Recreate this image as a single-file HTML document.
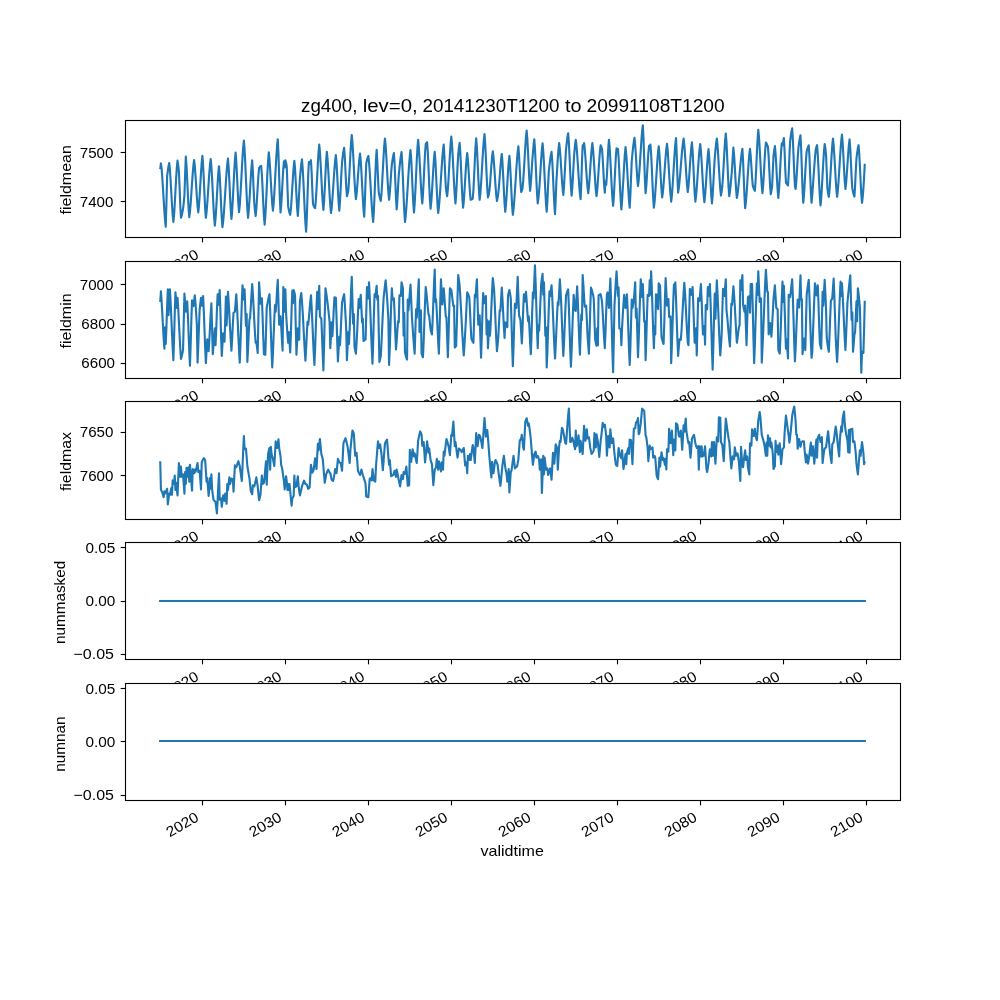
<!DOCTYPE html>
<html lang="en">
<head>
<meta charset="utf-8">
<title>zg400, lev=0, 20141230T1200 to 20991108T1200</title>
<style>
html,body{margin:0;padding:0;background:#fff;}
body{width:1000px;height:1000px;overflow:hidden;}
svg{display:block;will-change:transform;}
text{font-family:"Liberation Sans",sans-serif;fill:#000;}
.tk{font-size:14.7px;}
.lb{font-size:14.6px;}
.tt text{font-size:17.5px;}
.ln{fill:none;stroke:#1f77b4;stroke-width:2.12;stroke-linejoin:round;stroke-linecap:butt;}
.fr{fill:none;stroke:#000;stroke-width:1.11;}
.tm{stroke:#000;stroke-width:1.11;}
</style>
</head>
<body>
<svg width="1000" height="1000" viewBox="0 0 1000 1000">
<rect x="0" y="0" width="1000" height="1000" fill="#fff"/>
<g>
<rect x="125.00" y="120.00" width="775.00" height="117.24" fill="#fff"/>
<path class="ln" d="M160.23 169.20 L160.92 163.44 L161.61 168.60 L162.30 177.73 L163.00 188.70 L163.69 200.29 L164.38 211.31 L165.07 220.54 L165.76 226.80 L166.45 202.70 L167.14 176.40 L167.84 170.52 L168.53 165.92 L169.22 162.96 L169.91 169.79 L170.60 180.23 L171.29 192.48 L171.98 204.73 L172.68 215.17 L173.37 222.00 L174.06 214.89 L174.75 204.02 L175.44 191.28 L176.13 178.54 L176.82 167.67 L177.52 160.56 L178.21 165.00 L178.90 171.60 L179.59 187.04 L180.28 205.25 L180.97 217.80 L181.66 215.68 L182.35 212.47 L183.05 208.80 L183.74 202.97 L184.43 195.60 L185.12 174.74 L185.81 156.60 L186.50 165.52 L187.19 179.24 L187.89 194.56 L188.58 208.28 L189.27 217.20 L189.96 211.78 L190.65 203.60 L191.34 193.77 L192.03 183.39 L192.73 173.56 L193.42 165.38 L194.11 159.96 L194.80 166.03 L195.49 175.30 L196.18 186.18 L196.87 197.06 L197.57 206.33 L198.26 212.40 L198.95 205.84 L199.64 195.83 L200.33 184.08 L201.02 172.33 L201.71 162.32 L202.41 155.76 L203.10 164.89 L203.79 178.94 L204.48 194.62 L205.17 208.67 L205.86 217.80 L206.55 212.23 L207.25 203.83 L207.94 193.73 L208.63 183.07 L209.32 172.97 L210.01 164.57 L210.70 159.00 L211.39 166.71 L212.09 178.49 L212.78 192.30 L213.47 206.11 L214.16 217.89 L214.85 225.60 L215.54 218.73 L216.23 208.22 L216.93 195.90 L217.62 183.58 L218.31 173.07 L219.00 166.20 L219.69 175.17 L220.38 188.97 L221.07 204.39 L221.76 218.19 L222.46 227.16 L223.15 221.69 L223.84 213.56 L224.53 203.67 L225.22 192.90 L225.91 182.13 L226.60 172.24 L227.30 164.11 L227.99 158.64 L228.68 167.52 L229.37 181.19 L230.06 196.45 L230.75 210.12 L231.44 219.00 L232.14 211.32 L232.83 199.58 L233.52 185.82 L234.21 172.06 L234.90 160.32 L235.59 152.64 L236.28 161.40 L236.98 174.88 L237.67 189.92 L238.36 203.40 L239.05 212.16 L239.74 205.38 L240.43 195.17 L241.12 182.88 L241.82 169.92 L242.51 157.63 L243.20 147.42 L243.89 140.64 L244.58 149.57 L245.27 163.22 L245.96 179.22 L246.66 195.22 L247.35 208.87 L248.04 217.80 L248.73 211.13 L249.42 200.95 L250.11 189.00 L250.80 177.05 L251.50 166.87 L252.19 160.20 L252.88 171.59 L253.57 188.19 L254.26 202.80 L254.95 210.61 L255.64 216.00 L256.34 209.04 L257.03 198.40 L257.72 186.43 L258.41 175.51 L259.10 168.00 L259.79 167.06 L260.48 166.32 L261.17 165.84 L261.87 174.51 L262.56 187.85 L263.25 202.75 L263.94 216.09 L264.63 224.76 L265.32 216.38 L266.01 203.59 L266.71 188.58 L267.40 173.57 L268.09 160.78 L268.78 152.40 L269.47 159.14 L270.16 169.43 L270.85 181.50 L271.55 193.57 L272.24 203.86 L272.93 210.60 L273.62 203.83 L274.31 193.63 L275.00 181.37 L275.69 168.43 L276.39 156.17 L277.08 145.97 L277.77 139.20 L278.46 153.73 L279.15 175.80 L279.84 197.87 L280.53 212.40 L281.23 204.89 L281.92 193.35 L282.61 180.45 L283.30 168.91 L283.99 161.40 L284.68 167.40 L285.37 160.20 L286.07 162.72 L286.76 166.80 L287.45 186.67 L288.14 206.40 L288.83 210.12 L289.52 212.97 L290.21 214.80 L290.91 208.55 L291.60 199.00 L292.29 187.80 L292.98 176.60 L293.67 167.05 L294.36 160.80 L295.05 168.93 L295.75 181.42 L296.44 195.38 L297.13 207.87 L297.82 216.00 L298.51 206.16 L299.20 191.77 L299.89 178.80 L300.58 171.03 L301.28 164.01 L301.97 159.36 L302.66 167.72 L303.35 180.50 L304.04 195.48 L304.73 210.46 L305.42 223.24 L306.12 231.60 L306.81 217.79 L307.50 196.80 L308.19 175.81 L308.88 162.00 L309.57 163.80 L310.26 162.00 L310.96 160.20 L311.65 172.70 L312.34 190.56 L313.03 204.00 L313.72 205.85 L314.41 207.28 L315.10 208.20 L315.80 200.84 L316.49 189.59 L317.18 176.40 L317.87 163.21 L318.56 151.96 L319.25 144.60 L319.94 152.17 L320.64 163.74 L321.33 177.30 L322.02 190.86 L322.71 202.43 L323.40 210.00 L324.09 201.43 L324.78 188.26 L325.48 173.54 L326.17 160.37 L326.86 151.80 L327.55 158.88 L328.24 169.71 L328.93 182.40 L329.62 195.09 L330.32 205.92 L331.01 213.00 L331.70 207.51 L332.39 199.23 L333.08 189.28 L333.77 178.76 L334.46 168.81 L335.16 160.53 L335.85 155.04 L336.54 163.22 L337.23 175.80 L337.92 189.84 L338.61 202.42 L339.30 210.60 L339.99 201.64 L340.69 188.13 L341.38 173.70 L342.07 162.00 L342.76 156.23 L343.45 151.17 L344.14 147.84 L344.83 157.44 L345.53 172.02 L346.22 186.60 L346.91 196.20 L347.60 194.05 L348.29 190.80 L348.98 181.18 L349.67 168.37 L350.37 154.79 L351.06 142.86 L351.75 135.00 L352.44 142.43 L353.13 153.78 L353.82 167.10 L354.51 180.42 L355.21 191.77 L355.90 199.20 L356.59 193.92 L357.28 185.86 L357.97 176.40 L358.66 166.94 L359.35 158.88 L360.05 153.60 L360.74 160.89 L361.43 172.03 L362.12 185.10 L362.81 198.17 L363.50 209.31 L364.19 216.60 L364.89 201.49 L365.58 179.86 L366.27 163.20 L366.96 160.06 L367.65 157.59 L368.34 156.00 L369.03 162.25 L369.73 171.68 L370.42 183.02 L371.11 194.98 L371.80 206.32 L372.49 215.75 L373.18 222.00 L373.87 211.37 L374.57 195.01 L375.26 176.75 L375.95 160.39 L376.64 149.76 L377.33 161.51 L378.02 178.43 L378.71 192.00 L379.40 195.84 L380.10 198.97 L380.79 201.00 L381.48 193.78 L382.17 182.74 L382.86 169.80 L383.55 156.86 L384.24 145.82 L384.94 138.60 L385.63 145.68 L386.32 156.51 L387.01 169.20 L387.70 181.89 L388.39 192.72 L389.08 199.80 L389.78 193.31 L390.47 183.53 L391.16 173.04 L391.85 164.40 L392.54 159.79 L393.23 155.70 L393.92 153.00 L394.62 164.19 L395.31 181.20 L396.00 198.21 L396.69 209.40 L397.38 200.34 L398.07 187.11 L398.76 175.20 L399.46 168.22 L400.15 161.54 L400.84 155.93 L401.53 152.16 L402.22 162.44 L402.91 178.25 L403.60 195.91 L404.30 211.72 L404.99 222.00 L405.68 216.25 L406.37 207.71 L407.06 197.32 L407.75 186.00 L408.44 174.68 L409.14 164.29 L409.83 155.75 L410.52 150.00 L411.21 159.19 L411.90 173.31 L412.59 189.09 L413.28 203.21 L413.98 212.40 L414.67 204.00 L415.36 191.16 L416.05 176.10 L416.74 161.04 L417.43 148.20 L418.12 139.80 L418.81 147.16 L419.51 158.41 L420.20 171.60 L420.89 184.79 L421.58 196.04 L422.27 203.40 L422.96 194.79 L423.65 181.60 L424.35 166.78 L425.04 153.27 L425.73 144.00 L426.42 142.90 L427.11 142.20 L427.80 152.00 L428.49 167.08 L429.19 183.92 L429.88 199.00 L430.57 208.80 L431.26 202.20 L431.95 192.12 L432.64 180.30 L433.33 168.48 L434.03 158.40 L434.72 151.80 L435.41 160.81 L436.10 174.66 L436.79 190.14 L437.48 203.99 L438.17 213.00 L438.87 207.54 L439.56 199.43 L440.25 189.55 L440.94 178.80 L441.63 168.05 L442.32 158.17 L443.01 150.06 L443.71 144.60 L444.40 156.04 L445.09 172.62 L445.78 186.60 L446.47 192.35 L447.16 196.20 L447.85 189.30 L448.55 178.75 L449.24 166.38 L449.93 154.01 L450.62 143.46 L451.31 136.56 L452.00 144.30 L452.69 156.12 L453.39 169.98 L454.08 183.84 L454.77 195.66 L455.46 203.40 L456.15 194.55 L456.84 181.23 L457.53 166.84 L458.22 154.80 L458.92 147.74 L459.61 142.80 L460.30 152.34 L460.99 167.01 L461.68 183.39 L462.37 198.06 L463.06 207.60 L463.76 201.28 L464.45 191.62 L465.14 180.30 L465.83 168.98 L466.52 159.32 L467.21 153.00 L467.90 159.89 L468.60 170.48 L469.29 182.32 L469.98 192.91 L470.67 199.80 L471.36 199.54 L472.05 199.13 L472.74 198.60 L473.44 189.46 L474.13 175.77 L474.82 160.60 L475.51 147.06 L476.20 138.24 L476.89 147.30 L477.58 161.24 L478.28 176.80 L478.97 190.74 L479.66 199.80 L480.35 193.58 L481.04 184.20 L481.73 172.93 L482.42 161.03 L483.12 149.76 L483.81 140.38 L484.50 134.16 L485.19 143.47 L485.88 157.79 L486.57 173.77 L487.26 188.09 L487.96 197.40 L488.65 194.96 L489.34 191.40 L490.03 184.04 L490.72 174.76 L491.41 165.14 L492.10 156.76 L492.80 151.20 L493.49 156.96 L494.18 165.77 L494.87 176.10 L495.56 186.43 L496.25 195.24 L496.94 201.00 L497.63 197.78 L498.33 193.20 L499.02 185.67 L499.71 176.57 L500.40 167.31 L501.09 159.30 L501.78 153.96 L502.47 162.47 L503.17 175.57 L503.86 190.19 L504.55 203.29 L505.24 211.80 L505.93 205.31 L506.62 195.40 L507.31 183.78 L508.01 172.16 L508.70 162.25 L509.39 155.76 L510.08 164.45 L510.77 177.82 L511.46 192.74 L512.15 206.11 L512.85 214.80 L513.54 209.34 L514.23 201.23 L514.92 191.35 L515.61 180.60 L516.30 169.85 L516.99 159.97 L517.69 151.86 L518.38 146.40 L519.07 155.45 L519.76 169.20 L520.45 182.95 L521.14 192.00 L521.83 190.57 L522.53 188.40 L523.22 180.67 L523.91 170.15 L524.60 158.36 L525.29 146.82 L525.98 137.05 L526.67 130.56 L527.37 139.43 L528.06 153.07 L528.75 168.29 L529.44 181.93 L530.13 190.80 L530.82 183.41 L531.51 172.50 L532.20 162.00 L532.90 153.26 L533.59 144.83 L534.28 139.20 L534.97 148.65 L535.66 163.19 L536.35 179.41 L537.04 193.95 L537.74 203.40 L538.43 198.11 L539.12 190.80 L539.81 181.23 L540.50 170.18 L541.19 159.17 L541.88 149.73 L542.58 143.40 L543.27 151.32 L543.96 163.41 L544.65 177.60 L545.34 191.79 L546.03 203.88 L546.72 211.80 L547.42 200.94 L548.11 185.17 L548.80 171.60 L549.49 165.38 L550.18 159.67 L550.87 154.97 L551.56 151.80 L552.26 160.99 L552.95 175.11 L553.64 190.89 L554.33 205.01 L555.02 214.20 L555.71 199.41 L556.40 181.20 L557.10 169.77 L557.79 158.69 L558.48 149.33 L559.17 143.04 L559.86 149.05 L560.55 158.24 L561.24 169.02 L561.94 179.80 L562.63 188.99 L563.32 195.00 L564.01 186.56 L564.70 173.84 L565.39 160.15 L566.08 148.80 L566.78 142.51 L567.47 136.90 L568.16 133.20 L568.85 142.39 L569.54 156.51 L570.23 172.29 L570.92 186.41 L571.61 195.60 L572.31 187.68 L573.00 175.76 L573.69 162.81 L574.38 151.80 L575.07 144.77 L575.76 139.80 L576.45 145.43 L577.15 153.91 L577.84 164.11 L578.53 174.89 L579.22 185.09 L579.91 193.57 L580.60 199.20 L581.29 183.40 L581.99 161.00 L582.68 145.20 L583.37 147.00 L584.06 143.04 L584.75 148.85 L585.44 157.72 L586.13 168.12 L586.83 178.52 L587.52 187.39 L588.21 193.20 L588.90 187.39 L589.59 178.52 L590.28 168.12 L590.97 157.72 L591.67 148.85 L592.36 143.04 L593.05 149.19 L593.74 158.59 L594.43 169.62 L595.12 180.65 L595.81 190.05 L596.51 196.20 L597.20 190.30 L597.89 181.28 L598.58 170.70 L599.27 160.12 L599.96 151.10 L600.65 145.20 L601.35 146.85 L602.04 149.40 L602.73 158.98 L603.42 171.90 L604.11 184.36 L604.80 192.60 L605.49 181.20 L606.19 184.80 L606.88 175.87 L607.57 162.30 L608.26 148.73 L608.95 139.80 L609.64 147.44 L610.33 159.11 L611.02 172.80 L611.72 186.49 L612.41 198.16 L613.10 205.80 L613.79 197.32 L614.48 184.28 L615.17 169.72 L615.86 156.68 L616.56 148.20 L617.25 150.00 L617.94 148.80 L618.63 157.72 L619.32 171.44 L620.01 186.76 L620.70 200.48 L621.40 209.40 L622.09 200.62 L622.78 189.00 L623.47 177.47 L624.16 165.16 L624.85 154.27 L625.54 147.00 L626.24 154.01 L626.93 164.73 L627.62 177.30 L628.31 189.87 L629.00 200.59 L629.69 207.60 L630.38 194.96 L631.08 176.60 L631.77 160.80 L632.46 153.57 L633.15 146.91 L633.84 141.44 L634.53 137.76 L635.22 144.86 L635.92 155.78 L636.61 167.98 L637.30 178.90 L637.99 186.00 L638.68 180.26 L639.37 171.60 L640.06 161.19 L640.76 150.21 L641.45 139.80 L642.14 131.14 L642.83 125.40 L643.52 138.85 L644.21 159.30 L644.90 179.75 L645.60 193.20 L646.29 186.22 L646.98 175.49 L647.67 163.51 L648.36 152.78 L649.05 145.80 L649.74 147.00 L650.43 144.60 L651.13 153.87 L651.82 168.14 L652.51 184.06 L653.20 198.33 L653.89 207.60 L654.58 201.80 L655.27 193.06 L655.97 182.55 L656.66 171.45 L657.35 160.94 L658.04 152.20 L658.73 146.40 L659.42 153.91 L660.11 165.45 L660.81 178.35 L661.50 189.89 L662.19 197.40 L662.88 192.32 L663.57 184.65 L664.26 175.44 L664.95 165.72 L665.65 156.51 L666.34 148.84 L667.03 143.76 L667.72 150.96 L668.41 161.77 L669.10 173.83 L669.79 184.80 L670.49 194.46 L671.18 201.60 L671.87 195.57 L672.56 186.49 L673.25 175.57 L673.94 164.03 L674.63 153.11 L675.33 144.03 L676.02 138.00 L676.71 153.98 L677.40 176.62 L678.09 192.60 L678.78 188.29 L679.47 181.88 L680.17 174.09 L680.86 165.60 L681.55 157.11 L682.24 149.32 L682.93 142.91 L683.62 138.60 L684.31 144.78 L685.01 154.22 L685.70 165.30 L686.39 176.38 L687.08 185.82 L687.77 192.00 L688.46 186.24 L689.15 177.43 L689.84 167.10 L690.54 156.77 L691.23 147.96 L691.92 142.20 L692.61 150.94 L693.30 164.39 L693.99 179.41 L694.68 192.86 L695.38 201.60 L696.07 196.14 L696.76 187.91 L697.45 178.02 L698.14 167.58 L698.83 157.69 L699.52 149.46 L700.22 144.00 L700.91 150.74 L701.60 161.03 L702.29 173.10 L702.98 185.17 L703.67 195.46 L704.36 202.20 L705.06 196.05 L705.75 186.65 L706.44 175.62 L707.13 164.59 L707.82 155.19 L708.51 149.04 L709.20 157.04 L709.90 169.35 L710.59 183.09 L711.28 195.40 L711.97 203.40 L712.66 195.32 L713.35 183.16 L714.04 169.87 L714.74 158.40 L715.43 150.60 L716.12 143.39 L716.81 138.60 L717.50 145.20 L718.19 155.28 L718.88 167.10 L719.58 178.92 L720.27 189.00 L720.96 195.60 L721.65 191.66 L722.34 186.00 L723.03 176.06 L723.72 163.89 L724.42 151.42 L725.11 140.63 L725.80 133.44 L726.49 142.68 L727.18 156.89 L727.87 172.75 L728.56 186.96 L729.25 196.20 L729.95 191.72 L730.64 185.04 L731.33 177.20 L732.02 169.20 L732.71 157.23 L733.40 147.60 L734.09 155.02 L734.79 166.43 L735.48 179.17 L736.17 190.58 L736.86 198.00 L737.55 194.07 L738.24 188.24 L738.93 181.14 L739.63 173.40 L740.32 165.66 L741.01 158.56 L741.70 152.73 L742.39 148.80 L743.08 160.59 L743.77 178.50 L744.47 196.41 L745.16 208.20 L745.85 202.57 L746.54 194.09 L747.23 183.89 L747.92 173.11 L748.61 162.91 L749.31 154.43 L750.00 148.80 L750.69 155.76 L751.38 166.30 L752.07 177.24 L752.76 185.40 L753.45 187.69 L754.15 189.58 L754.84 190.80 L755.53 181.83 L756.22 168.03 L756.91 152.61 L757.60 138.81 L758.29 129.84 L758.99 137.17 L759.68 148.38 L760.37 161.52 L761.06 174.66 L761.75 185.87 L762.44 193.20 L763.13 185.75 L763.83 174.28 L764.52 161.48 L765.21 150.01 L765.90 142.56 L766.59 143.55 L767.28 145.08 L767.97 147.00 L768.66 157.14 L769.36 171.28 L770.05 185.06 L770.74 194.16 L771.43 190.96 L772.12 186.00 L772.81 171.14 L773.50 156.00 L774.20 150.06 L774.89 146.16 L775.58 153.79 L776.27 165.53 L776.96 178.63 L777.65 190.37 L778.34 198.00 L779.04 189.96 L779.73 177.60 L780.42 163.80 L781.11 151.44 L781.80 143.40 L782.49 145.20 L783.18 141.60 L783.88 138.00 L784.57 150.76 L785.26 168.95 L785.95 182.40 L786.64 183.74 L787.33 184.75 L788.02 185.40 L788.72 173.41 L789.41 156.07 L790.10 141.60 L790.79 136.08 L791.48 131.44 L792.17 128.40 L792.86 139.38 L793.56 155.99 L794.25 173.21 L794.94 186.00 L795.63 189.00 L796.32 181.51 L797.01 170.23 L797.70 158.13 L798.40 148.20 L799.09 143.00 L799.78 138.39 L800.47 135.36 L801.16 148.74 L801.85 169.08 L802.54 189.42 L803.24 202.80 L803.93 195.47 L804.62 184.33 L805.31 171.69 L806.00 159.87 L806.69 151.20 L807.38 148.77 L808.07 146.75 L808.77 145.44 L809.46 156.82 L810.15 174.12 L810.84 191.42 L811.53 202.80 L812.22 195.59 L812.91 186.00 L813.61 176.55 L814.30 166.60 L814.99 157.35 L815.68 150.00 L816.37 147.11 L817.06 145.20 L817.75 154.07 L818.45 167.71 L819.14 182.93 L819.83 196.57 L820.52 205.44 L821.21 198.33 L821.90 187.46 L822.59 174.72 L823.29 161.98 L823.98 151.11 L824.67 144.00 L825.36 148.28 L826.05 154.80 L826.74 171.80 L827.43 188.40 L828.13 193.52 L828.82 196.80 L829.51 190.06 L830.20 179.77 L830.89 167.70 L831.58 155.63 L832.27 145.34 L832.97 138.60 L833.66 145.34 L834.35 155.63 L835.04 167.70 L835.73 179.77 L836.42 190.06 L837.11 196.80 L837.81 190.91 L838.50 182.03 L839.19 171.36 L839.88 160.08 L840.57 149.41 L841.26 140.53 L841.95 134.64 L842.65 142.64 L843.34 154.95 L844.03 168.69 L844.72 181.00 L845.41 189.00 L846.10 183.26 L846.79 174.50 L847.48 164.22 L848.18 153.94 L848.87 145.18 L849.56 139.44 L850.25 148.71 L850.94 162.73 L851.63 177.35 L852.32 188.40 L853.02 191.84 L853.71 194.70 L854.40 196.56 L855.09 186.19 L855.78 171.16 L856.47 158.40 L857.16 152.94 L857.86 148.26 L858.55 145.20 L859.24 153.68 L859.93 166.72 L860.62 181.28 L861.31 194.32 L862.00 202.80 L862.70 197.04 L863.39 188.58 L864.08 177.48 L864.77 163.80"/>
<line class="tm" x1="202.50" y1="237.50" x2="202.50" y2="242.36"/>
<line class="tm" x1="285.50" y1="237.50" x2="285.50" y2="242.36"/>
<line class="tm" x1="368.50" y1="237.50" x2="368.50" y2="242.36"/>
<line class="tm" x1="451.50" y1="237.50" x2="451.50" y2="242.36"/>
<line class="tm" x1="534.50" y1="237.50" x2="534.50" y2="242.36"/>
<line class="tm" x1="617.50" y1="237.50" x2="617.50" y2="242.36"/>
<line class="tm" x1="700.50" y1="237.50" x2="700.50" y2="242.36"/>
<line class="tm" x1="783.50" y1="237.50" x2="783.50" y2="242.36"/>
<line class="tm" x1="866.50" y1="237.50" x2="866.50" y2="242.36"/>
<line class="tm" x1="120.64" y1="152.50" x2="125.50" y2="152.50"/>
<line class="tm" x1="120.64" y1="201.50" x2="125.50" y2="201.50"/>
<rect class="fr" x="125.50" y="120.50" width="775.00" height="117.00"/>
<text class="tk" text-anchor="end" transform="translate(199.77 257.44) rotate(-30) scale(1.06 1)">2020</text>
<text class="tk" text-anchor="end" transform="translate(282.80 257.44) rotate(-30) scale(1.06 1)">2030</text>
<text class="tk" text-anchor="end" transform="translate(365.83 257.44) rotate(-30) scale(1.06 1)">2040</text>
<text class="tk" text-anchor="end" transform="translate(448.86 257.44) rotate(-30) scale(1.06 1)">2050</text>
<text class="tk" text-anchor="end" transform="translate(531.89 257.44) rotate(-30) scale(1.06 1)">2060</text>
<text class="tk" text-anchor="end" transform="translate(614.92 257.44) rotate(-30) scale(1.06 1)">2070</text>
<text class="tk" text-anchor="end" transform="translate(697.95 257.44) rotate(-30) scale(1.06 1)">2080</text>
<text class="tk" text-anchor="end" transform="translate(780.98 257.44) rotate(-30) scale(1.06 1)">2090</text>
<text class="tk" text-anchor="end" transform="translate(864.01 257.44) rotate(-30) scale(1.06 1)">2100</text>
<text class="tk" text-anchor="end" transform="translate(113.40 157.90) scale(1.03 1)">7500</text>
<text class="tk" text-anchor="end" transform="translate(113.40 206.90) scale(1.03 1)">7400</text>
<text class="lb" text-anchor="middle" transform="translate(71.00 179.82) rotate(-90) scale(1.095 1)">fieldmean</text>
<g class="tt">
<text transform="translate(301.00 112.00) scale(1.0750 1)">zg400,</text>
<text transform="translate(362.70 112.00) scale(1.1650 1)">lev=0,</text>
<text transform="translate(422.50 112.00) scale(1.0750 1)">20141230T1200</text>
<text transform="translate(565.00 112.00) scale(1.1350 1)">to</text>
<text transform="translate(586.50 112.00) scale(1.0950 1)">20991108T1200</text>
</g>
</g>
<g>
<rect x="125.00" y="260.69" width="775.00" height="117.24" fill="#fff"/>
<path class="ln" d="M160.23 302.00 L160.92 291.20 L161.61 301.06 L162.30 313.41 L163.00 326.59 L163.69 338.94 L164.38 348.80 L165.07 327.20 L165.76 344.00 L166.45 327.01 L167.14 306.39 L167.84 289.40 L168.53 315.20 L169.22 302.30 L169.91 289.40 L170.60 301.52 L171.29 316.70 L171.98 332.90 L172.68 348.08 L173.37 360.20 L174.06 339.11 L174.75 313.49 L175.44 292.40 L176.13 300.20 L176.82 308.00 L177.52 297.80 L178.21 308.28 L178.90 321.40 L179.59 335.40 L180.28 348.52 L180.97 359.00 L181.66 356.58 L182.35 353.56 L183.05 350.00 L183.74 321.37 L184.43 293.60 L185.12 302.60 L185.81 311.60 L186.50 306.50 L187.19 301.40 L187.89 315.64 L188.58 333.50 L189.27 351.36 L189.96 365.60 L190.65 345.25 L191.34 320.55 L192.03 300.20 L192.73 303.20 L193.42 306.20 L194.11 300.80 L194.80 295.40 L195.49 303.57 L196.18 313.74 L196.87 325.40 L197.57 362.60 L198.26 346.75 L198.95 327.38 L199.64 309.80 L200.33 303.15 L201.02 297.80 L201.71 305.60 L202.41 300.80 L203.10 296.00 L203.79 310.91 L204.48 329.60 L205.17 348.29 L205.86 363.20 L206.55 351.20 L207.25 339.20 L207.94 345.20 L208.63 351.20 L209.32 340.55 L210.01 327.20 L210.70 313.85 L211.39 303.20 L212.09 328.70 L212.78 354.20 L213.47 346.17 L214.16 336.43 L214.85 328.40 L215.54 345.20 L216.23 329.33 L216.93 310.07 L217.62 294.20 L218.31 305.00 L219.00 297.50 L219.69 290.00 L220.38 310.53 L221.07 335.47 L221.76 356.00 L222.46 344.60 L223.15 333.20 L223.84 337.40 L224.53 341.60 L225.22 319.10 L225.91 296.60 L226.60 325.40 L227.30 308.60 L227.99 291.80 L228.68 301.87 L229.37 314.47 L230.06 327.93 L230.75 340.53 L231.44 350.60 L232.14 338.91 L232.83 324.70 L233.52 312.80 L234.21 312.20 L234.90 311.60 L235.59 302.82 L236.28 294.20 L236.98 305.91 L237.67 320.58 L238.36 336.22 L239.05 350.89 L239.74 362.60 L240.43 345.43 L241.12 323.90 L241.82 302.37 L242.51 285.20 L243.20 292.40 L243.89 299.60 L244.58 289.40 L245.27 307.70 L245.96 326.00 L246.66 314.00 L247.35 362.00 L248.04 349.18 L248.73 333.56 L249.42 320.00 L250.11 317.60 L250.80 306.67 L251.50 294.22 L252.19 284.00 L252.88 294.07 L253.57 306.67 L254.26 320.13 L254.95 332.73 L255.64 342.80 L256.34 341.60 L257.03 347.30 L257.72 353.00 L258.41 317.60 L259.10 282.20 L259.79 293.00 L260.48 303.80 L261.17 301.10 L261.87 298.40 L262.56 315.72 L263.25 336.77 L263.94 354.20 L264.63 354.54 L265.32 354.80 L266.01 331.89 L266.71 308.00 L267.40 303.83 L268.09 300.12 L268.78 296.89 L269.47 294.20 L270.16 310.44 L270.85 330.80 L271.55 351.16 L272.24 367.40 L272.93 353.55 L273.62 336.20 L274.31 318.85 L275.00 305.00 L275.69 311.60 L276.39 301.71 L277.08 289.69 L277.77 279.80 L278.46 302.30 L279.15 324.80 L279.84 320.60 L280.53 316.40 L281.23 327.04 L281.92 339.96 L282.61 350.60 L283.30 287.00 L283.99 299.30 L284.68 311.60 L285.37 289.40 L286.07 312.80 L286.76 324.14 L287.45 334.47 L288.14 342.80 L288.83 332.00 L289.52 342.20 L290.21 352.40 L290.91 333.17 L291.60 309.83 L292.29 290.60 L292.98 303.20 L293.67 290.00 L294.36 292.33 L295.05 295.40 L295.75 325.47 L296.44 354.80 L297.13 341.60 L297.82 328.40 L298.51 334.10 L299.20 339.80 L299.89 302.00 L300.58 296.84 L301.28 293.00 L301.97 301.52 L302.66 311.60 L303.35 324.28 L304.04 337.76 L304.73 350.47 L305.42 360.80 L306.12 348.67 L306.81 333.93 L307.50 321.80 L308.19 324.80 L308.88 318.28 L309.57 310.10 L310.26 301.92 L310.96 295.40 L311.65 307.32 L312.34 322.24 L313.03 338.16 L313.72 353.08 L314.41 365.00 L315.10 348.76 L315.80 328.40 L316.49 308.04 L317.18 291.80 L317.87 309.20 L318.56 297.50 L319.25 285.80 L319.94 316.40 L320.64 317.63 L321.33 318.80 L322.02 335.14 L322.71 354.49 L323.40 370.40 L324.09 344.83 L324.78 313.77 L325.48 288.20 L326.17 292.49 L326.86 297.37 L327.55 302.82 L328.24 308.82 L328.93 315.36 L329.62 322.40 L330.32 348.20 L331.01 335.30 L331.70 322.40 L332.39 336.20 L333.08 324.07 L333.77 309.33 L334.46 297.20 L335.16 297.46 L335.85 297.80 L336.54 317.66 L337.23 341.65 L337.92 361.40 L338.61 349.10 L339.30 336.80 L339.99 345.20 L340.69 332.26 L341.38 316.48 L342.07 302.60 L342.76 299.36 L343.45 296.50 L344.14 294.20 L344.83 303.99 L345.53 316.13 L346.22 329.60 L346.91 360.20 L347.60 346.10 L348.29 332.00 L348.98 344.00 L349.67 329.09 L350.37 310.40 L351.06 291.71 L351.75 276.80 L352.44 300.20 L353.13 323.60 L353.82 314.00 L354.51 346.40 L355.21 350.53 L355.90 353.60 L356.59 342.61 L357.28 329.60 L357.97 313.29 L358.66 299.00 L359.35 308.00 L360.05 301.40 L360.74 294.80 L361.43 308.60 L362.12 322.40 L362.81 318.80 L363.50 341.00 L364.19 340.52 L364.89 339.93 L365.58 339.20 L366.27 313.01 L366.96 287.00 L367.65 292.70 L368.34 298.40 L369.03 282.20 L369.73 296.17 L370.42 313.66 L371.11 332.34 L371.80 349.83 L372.49 363.80 L373.18 342.15 L373.87 315.85 L374.57 294.20 L375.26 297.20 L375.95 291.50 L376.64 285.80 L377.33 299.60 L378.02 296.00 L378.71 329.00 L379.40 362.00 L380.10 359.35 L380.79 356.00 L381.48 343.05 L382.17 328.08 L382.86 312.82 L383.55 299.00 L384.24 292.08 L384.94 285.62 L385.63 280.40 L386.32 288.01 L387.01 297.13 L387.70 307.63 L388.39 319.40 L389.08 365.00 L389.78 347.96 L390.47 326.60 L391.16 305.24 L391.85 288.20 L392.54 299.60 L393.23 299.00 L393.92 298.40 L394.62 314.27 L395.31 333.53 L396.00 349.40 L396.69 340.63 L397.38 329.97 L398.07 321.20 L398.76 322.40 L399.46 295.40 L400.15 295.70 L400.84 296.00 L401.53 282.20 L402.22 284.99 L402.91 288.80 L403.60 335.60 L404.30 312.80 L404.99 352.40 L405.68 355.35 L406.37 357.71 L407.06 359.60 L407.75 299.60 L408.44 310.40 L409.14 302.37 L409.83 292.63 L410.52 284.60 L411.21 299.59 L411.90 316.40 L412.59 326.69 L413.28 336.81 L413.98 346.03 L414.67 353.60 L415.36 331.40 L416.05 309.20 L416.74 317.60 L417.43 305.65 L418.12 291.15 L418.81 279.20 L419.51 332.00 L420.20 321.20 L420.89 310.40 L421.58 353.60 L422.27 355.69 L422.96 357.20 L423.65 341.62 L424.35 322.10 L425.04 302.58 L425.73 287.00 L426.42 292.85 L427.11 300.12 L427.80 307.58 L428.49 314.00 L429.19 315.80 L429.88 322.63 L430.57 329.60 L431.26 332.27 L431.95 334.40 L432.64 320.02 L433.33 302.00 L434.03 283.98 L434.72 269.60 L435.41 302.00 L436.10 299.60 L436.79 311.58 L437.48 326.60 L438.17 341.62 L438.87 353.60 L439.56 330.45 L440.25 302.35 L440.94 279.20 L441.63 291.80 L442.32 304.40 L443.01 296.30 L443.71 288.20 L444.40 296.85 L445.09 307.38 L445.78 316.40 L446.47 317.60 L447.16 337.55 L447.85 357.20 L448.55 335.73 L449.24 309.67 L449.93 288.20 L450.62 288.99 L451.31 290.00 L452.00 295.24 L452.69 301.26 L453.39 306.20 L454.08 305.60 L454.77 347.60 L455.46 346.82 L456.15 345.80 L456.84 323.56 L457.53 296.92 L458.22 275.00 L458.92 279.60 L459.61 285.20 L460.30 296.34 L460.99 308.82 L461.68 321.80 L462.37 334.45 L463.06 345.93 L463.76 355.40 L464.45 345.62 L465.14 333.55 L465.83 321.20 L466.52 305.84 L467.21 292.40 L467.90 293.70 L468.60 295.32 L469.29 297.20 L469.98 310.29 L470.67 325.57 L471.36 338.60 L472.05 340.25 L472.74 341.66 L473.44 342.80 L474.13 318.80 L474.82 294.80 L475.51 297.20 L476.20 288.20 L476.89 279.20 L477.58 302.00 L478.28 324.80 L478.97 320.00 L479.66 315.20 L480.35 336.50 L481.04 357.80 L481.73 337.64 L482.42 313.16 L483.12 293.00 L483.81 298.10 L484.50 303.20 L485.19 299.60 L485.88 296.00 L486.57 334.40 L487.26 320.00 L487.96 348.20 L488.65 334.70 L489.34 321.20 L490.03 335.60 L490.72 322.82 L491.41 306.80 L492.10 290.78 L492.80 278.00 L493.49 283.94 L494.18 291.20 L494.87 306.00 L495.56 322.52 L496.25 338.38 L496.94 351.20 L497.63 344.70 L498.33 336.80 L499.02 322.90 L499.71 310.40 L500.40 311.00 L501.09 299.30 L501.78 287.60 L502.47 298.78 L503.17 312.80 L503.86 326.82 L504.55 338.00 L505.24 322.40 L505.93 323.89 L506.62 325.71 L507.31 327.20 L508.01 296.00 L508.70 292.55 L509.39 290.00 L510.08 293.69 L510.77 298.40 L511.46 320.40 L512.15 345.56 L512.85 366.20 L513.54 346.79 L514.23 323.21 L514.92 303.80 L515.61 305.90 L516.30 308.00 L516.99 292.40 L517.69 276.80 L518.38 295.68 L519.07 315.20 L519.76 317.62 L520.45 320.00 L521.14 332.00 L521.83 343.40 L522.53 328.09 L523.22 309.51 L523.91 294.20 L524.60 297.80 L525.29 301.40 L525.98 291.80 L526.67 300.95 L527.37 312.05 L528.06 321.20 L528.75 316.40 L529.44 328.16 L530.13 342.44 L530.82 354.20 L531.51 334.97 L532.20 311.63 L532.90 292.40 L533.59 298.40 L534.28 281.90 L534.97 265.40 L535.66 283.77 L536.35 306.80 L537.04 329.83 L537.74 348.20 L538.43 325.40 L539.12 330.80 L539.81 316.74 L540.50 299.55 L541.19 284.00 L541.88 278.34 L542.58 273.80 L543.27 294.80 L543.96 282.20 L544.65 308.90 L545.34 335.60 L546.03 327.20 L546.72 367.40 L547.42 350.49 L548.11 329.30 L548.80 308.11 L549.49 291.20 L550.18 296.00 L550.87 290.60 L551.56 285.20 L552.26 297.73 L552.95 313.43 L553.64 330.17 L554.33 345.87 L555.02 358.40 L555.71 345.89 L556.40 330.20 L557.10 314.51 L557.79 302.00 L558.48 305.00 L559.17 292.10 L559.86 279.20 L560.55 290.72 L561.24 304.40 L561.94 322.37 L562.63 340.91 L563.32 356.00 L564.01 342.75 L564.70 326.21 L565.39 309.42 L566.08 295.40 L566.78 293.08 L567.47 291.04 L568.16 289.40 L568.85 306.57 L569.54 328.10 L570.23 349.63 L570.92 366.80 L571.61 350.83 L572.31 330.80 L573.00 310.78 L573.69 294.80 L574.38 302.52 L575.07 310.40 L575.76 311.00 L576.45 298.70 L577.15 286.40 L577.84 301.58 L578.53 320.60 L579.22 339.62 L579.91 354.80 L580.60 334.70 L581.29 314.60 L581.99 320.00 L582.68 275.00 L583.37 284.89 L584.06 296.91 L584.75 306.80 L585.44 306.20 L586.13 305.60 L586.83 319.45 L587.52 335.00 L588.21 345.15 L588.90 353.60 L589.59 333.07 L590.28 308.13 L590.97 287.60 L591.67 289.64 L592.36 292.16 L593.05 294.80 L593.74 298.40 L594.43 318.80 L595.12 339.20 L595.81 342.93 L596.51 345.80 L597.20 328.40 L597.89 345.20 L598.58 295.40 L599.27 294.90 L599.96 294.51 L600.65 294.20 L601.35 297.69 L602.04 302.00 L602.73 313.18 L603.42 325.93 L604.11 338.26 L604.80 348.20 L605.49 331.84 L606.19 311.91 L606.88 294.80 L607.57 292.40 L608.26 300.20 L608.95 308.00 L609.64 293.30 L610.33 278.60 L611.02 299.37 L611.72 325.40 L612.41 351.43 L613.10 372.20 L613.79 340.22 L614.48 305.60 L615.17 292.62 L615.86 280.87 L616.56 271.40 L617.25 283.70 L617.94 296.00 L618.63 287.60 L619.32 328.40 L620.01 328.70 L620.70 329.00 L621.40 345.20 L622.09 327.20 L622.78 315.24 L623.47 303.94 L624.16 294.80 L624.85 301.40 L625.54 308.00 L626.24 301.10 L626.93 294.20 L627.62 309.91 L628.31 329.60 L629.00 349.29 L629.69 365.00 L630.38 347.60 L631.08 322.11 L631.77 299.60 L632.46 308.00 L633.15 304.51 L633.84 300.20 L634.53 290.79 L635.22 282.20 L635.92 317.60 L636.61 308.60 L637.30 332.90 L637.99 357.20 L638.68 339.89 L639.37 318.20 L640.06 296.51 L640.76 279.20 L641.45 288.20 L642.14 297.20 L642.83 284.00 L643.52 302.90 L644.21 321.80 L644.90 321.20 L645.60 360.20 L646.29 339.85 L646.98 315.15 L647.67 294.80 L648.36 295.40 L649.05 296.00 L649.74 280.40 L650.43 294.80 L651.13 271.40 L651.82 288.44 L652.51 309.80 L653.20 331.16 L653.89 348.20 L654.58 326.00 L655.27 334.40 L655.97 294.20 L656.66 294.80 L657.35 302.08 L658.04 309.20 L658.73 283.40 L659.42 284.43 L660.11 285.80 L660.81 311.12 L661.50 336.80 L662.19 339.66 L662.88 342.07 L663.57 344.00 L664.26 323.47 L664.95 298.53 L665.65 278.00 L666.34 291.80 L667.03 305.60 L667.72 302.30 L668.41 299.00 L669.10 317.00 L669.79 316.70 L670.49 316.40 L671.18 363.20 L671.87 345.76 L672.56 323.90 L673.25 302.04 L673.94 284.60 L674.63 292.40 L675.33 282.20 L676.02 298.57 L676.71 319.10 L677.40 339.63 L678.09 356.00 L678.78 347.60 L679.47 339.20 L680.17 339.50 L680.86 339.80 L681.55 330.04 L682.24 317.82 L682.93 304.78 L683.62 292.56 L684.31 282.80 L685.01 292.90 L685.70 305.43 L686.39 318.91 L687.08 331.86 L687.77 342.80 L688.46 345.20 L689.15 317.00 L689.84 288.80 L690.54 291.80 L691.23 294.80 L691.92 290.90 L692.61 287.00 L693.30 304.36 L693.99 325.44 L694.68 342.80 L695.38 335.60 L696.07 328.40 L696.76 355.40 L697.45 326.90 L698.14 298.40 L698.83 299.60 L699.52 300.80 L700.22 292.40 L700.91 284.00 L701.60 299.68 L702.29 318.72 L702.98 334.40 L703.67 330.20 L704.36 326.00 L705.06 344.60 L705.75 305.00 L706.44 307.10 L707.13 309.20 L707.82 287.00 L708.51 296.00 L709.20 290.00 L709.90 284.00 L710.59 303.04 L711.28 326.90 L711.97 350.76 L712.66 369.80 L713.35 346.09 L714.04 317.31 L714.74 293.60 L715.43 318.80 L716.12 299.60 L716.81 280.40 L717.50 293.24 L718.19 309.32 L718.88 326.48 L719.58 342.56 L720.27 355.40 L720.96 345.98 L721.65 334.40 L722.34 310.52 L723.03 288.80 L723.72 292.40 L724.42 296.00 L725.11 287.60 L725.80 279.20 L726.49 310.40 L727.18 316.40 L727.87 324.16 L728.56 332.38 L729.25 340.11 L729.95 346.40 L730.64 325.10 L731.33 303.80 L732.02 305.00 L732.71 295.70 L733.40 286.40 L734.09 295.20 L734.79 305.60 L735.48 318.60 L736.17 331.94 L736.86 342.80 L737.55 338.11 L738.24 332.38 L738.93 327.20 L739.63 325.40 L740.32 280.40 L741.01 290.00 L741.70 282.50 L742.39 275.00 L743.08 304.40 L743.77 308.53 L744.47 311.60 L745.16 305.60 L745.85 325.40 L746.54 345.20 L747.23 321.29 L747.92 297.20 L748.61 296.51 L749.31 296.00 L750.00 312.80 L750.69 284.00 L751.38 284.00 L752.07 284.00 L752.76 308.64 L753.45 338.56 L754.15 363.20 L754.84 345.49 L755.53 323.30 L756.22 301.11 L756.91 283.40 L757.60 294.80 L758.29 271.40 L758.99 286.70 L759.68 302.00 L760.37 300.20 L761.06 298.40 L761.75 362.60 L762.44 349.72 L763.13 333.74 L763.83 316.22 L764.52 298.70 L765.21 282.72 L765.90 269.84 L766.59 280.74 L767.28 291.80 L767.97 292.40 L768.66 334.40 L769.36 328.70 L770.05 323.00 L770.74 329.90 L771.43 336.80 L772.12 325.82 L772.81 312.37 L773.50 299.60 L774.20 291.73 L774.89 285.20 L775.58 296.51 L776.27 308.00 L776.96 308.59 L777.65 309.20 L778.34 350.00 L779.04 352.09 L779.73 353.60 L780.42 337.62 L781.11 317.60 L781.80 297.58 L782.49 281.60 L783.18 302.00 L783.88 285.80 L784.57 305.40 L785.26 329.20 L785.95 348.80 L786.64 339.20 L787.33 348.80 L788.02 358.40 L788.72 294.80 L789.41 296.00 L790.10 297.20 L790.79 291.80 L791.48 285.07 L792.17 279.20 L792.86 297.20 L793.56 319.74 L794.25 342.71 L794.94 361.40 L795.63 347.69 L796.32 330.50 L797.01 313.31 L797.70 299.60 L798.40 303.50 L799.09 307.40 L799.78 291.38 L800.47 275.36 L801.16 299.60 L801.85 299.00 L802.54 354.20 L803.24 346.40 L803.93 338.60 L804.62 344.30 L805.31 350.00 L806.00 323.07 L806.69 294.80 L807.38 288.95 L808.07 283.87 L808.77 279.80 L809.46 297.11 L810.15 318.80 L810.84 340.49 L811.53 357.80 L812.22 352.40 L812.91 335.83 L813.61 316.78 L814.30 298.29 L814.99 283.40 L815.68 289.40 L816.37 295.40 L817.06 290.30 L817.75 285.20 L818.45 302.79 L819.14 324.22 L819.83 342.80 L820.52 346.17 L821.21 348.80 L821.90 320.30 L822.59 291.80 L823.29 305.60 L823.98 292.70 L824.67 279.80 L825.36 292.99 L826.05 309.20 L826.74 338.00 L827.43 343.50 L828.13 348.11 L828.82 351.80 L829.51 336.07 L830.20 316.95 L830.89 300.80 L831.58 299.60 L832.27 298.40 L832.97 288.34 L833.66 278.60 L834.35 296.10 L835.04 317.56 L835.73 338.00 L836.42 351.10 L837.11 362.00 L837.81 348.24 L838.50 331.00 L839.19 312.60 L839.88 295.36 L840.57 281.60 L841.26 296.00 L841.95 283.40 L842.65 294.80 L843.34 309.08 L844.03 324.32 L844.72 338.60 L845.41 350.00 L846.10 335.69 L846.79 318.19 L847.48 302.00 L848.18 294.89 L848.87 288.20 L849.56 281.28 L850.25 275.36 L850.94 297.68 L851.63 320.00 L852.32 312.20 L853.02 351.80 L853.71 343.71 L854.40 335.00 L855.09 332.00 L855.78 316.35 L856.47 301.40 L857.16 321.20 L857.86 288.20 L858.55 293.60 L859.24 300.31 L859.93 308.00 L860.62 341.26 L861.31 372.80 L862.00 351.80 L862.70 352.40 L863.39 353.00 L864.08 329.86 L864.77 300.80"/>
<line class="tm" x1="202.50" y1="378.50" x2="202.50" y2="383.36"/>
<line class="tm" x1="285.50" y1="378.50" x2="285.50" y2="383.36"/>
<line class="tm" x1="368.50" y1="378.50" x2="368.50" y2="383.36"/>
<line class="tm" x1="451.50" y1="378.50" x2="451.50" y2="383.36"/>
<line class="tm" x1="534.50" y1="378.50" x2="534.50" y2="383.36"/>
<line class="tm" x1="617.50" y1="378.50" x2="617.50" y2="383.36"/>
<line class="tm" x1="700.50" y1="378.50" x2="700.50" y2="383.36"/>
<line class="tm" x1="783.50" y1="378.50" x2="783.50" y2="383.36"/>
<line class="tm" x1="866.50" y1="378.50" x2="866.50" y2="383.36"/>
<line class="tm" x1="120.64" y1="284.50" x2="125.50" y2="284.50"/>
<line class="tm" x1="120.64" y1="324.50" x2="125.50" y2="324.50"/>
<line class="tm" x1="120.64" y1="363.50" x2="125.50" y2="363.50"/>
<rect class="fr" x="125.50" y="261.50" width="775.00" height="117.00"/>
<text class="tk" text-anchor="end" transform="translate(199.77 398.13) rotate(-30) scale(1.06 1)">2020</text>
<text class="tk" text-anchor="end" transform="translate(282.80 398.13) rotate(-30) scale(1.06 1)">2030</text>
<text class="tk" text-anchor="end" transform="translate(365.83 398.13) rotate(-30) scale(1.06 1)">2040</text>
<text class="tk" text-anchor="end" transform="translate(448.86 398.13) rotate(-30) scale(1.06 1)">2050</text>
<text class="tk" text-anchor="end" transform="translate(531.89 398.13) rotate(-30) scale(1.06 1)">2060</text>
<text class="tk" text-anchor="end" transform="translate(614.92 398.13) rotate(-30) scale(1.06 1)">2070</text>
<text class="tk" text-anchor="end" transform="translate(697.95 398.13) rotate(-30) scale(1.06 1)">2080</text>
<text class="tk" text-anchor="end" transform="translate(780.98 398.13) rotate(-30) scale(1.06 1)">2090</text>
<text class="tk" text-anchor="end" transform="translate(864.01 398.13) rotate(-30) scale(1.06 1)">2100</text>
<text class="tk" text-anchor="end" transform="translate(113.40 289.90) scale(1.03 1)">7000</text>
<text class="tk" text-anchor="end" transform="translate(115.00 328.90) scale(1.03 1)">6800</text>
<text class="tk" text-anchor="end" transform="translate(115.00 367.90) scale(1.03 1)">6600</text>
<text class="lb" text-anchor="middle" transform="translate(71.00 320.91) rotate(-90) scale(1.095 1)">fieldmin</text>
</g>
<g>
<rect x="125.00" y="401.38" width="775.00" height="117.24" fill="#fff"/>
<path class="ln" d="M160.23 461.20 L160.92 489.40 L161.61 490.97 L162.30 492.40 L163.00 494.89 L163.69 497.20 L164.38 491.20 L165.07 493.60 L165.76 492.07 L166.45 490.33 L167.14 488.80 L167.84 504.40 L168.53 499.00 L169.22 493.60 L169.91 494.80 L170.60 491.50 L171.29 488.20 L171.98 494.80 L172.68 480.40 L173.37 482.20 L174.06 484.00 L174.75 475.60 L175.44 490.00 L176.13 482.80 L176.82 489.10 L177.52 495.40 L178.21 479.20 L178.90 463.00 L179.59 469.90 L180.28 476.80 L180.97 466.60 L181.66 476.80 L182.35 475.60 L183.05 474.40 L183.74 484.00 L184.43 493.60 L185.12 472.00 L185.81 484.00 L186.50 467.80 L187.19 472.30 L187.89 476.80 L188.58 467.20 L189.27 481.60 L189.96 464.80 L190.65 473.02 L191.34 482.38 L192.03 490.60 L192.73 469.00 L193.42 471.10 L194.11 473.20 L194.80 469.60 L195.49 472.00 L196.18 469.13 L196.87 465.87 L197.57 463.00 L198.26 472.00 L198.95 471.40 L199.64 470.80 L200.33 480.10 L201.02 489.40 L201.71 462.40 L202.41 460.78 L203.10 459.40 L203.79 458.20 L204.48 459.02 L205.17 460.00 L205.86 470.88 L206.55 481.60 L207.25 478.00 L207.94 487.00 L208.63 496.00 L209.32 487.00 L210.01 478.00 L210.70 488.80 L211.39 474.40 L212.09 488.80 L212.78 494.54 L213.47 499.60 L214.16 500.43 L214.85 501.17 L215.54 502.00 L216.23 507.77 L216.93 513.40 L217.62 500.60 L218.31 486.00 L219.00 473.20 L219.69 499.60 L220.38 499.00 L221.07 498.40 L221.76 506.80 L222.46 501.10 L223.15 495.40 L223.84 498.10 L224.53 500.80 L225.22 493.60 L225.91 498.70 L226.60 503.80 L227.30 484.00 L227.99 490.00 L228.68 483.70 L229.37 477.40 L230.06 484.00 L230.75 481.30 L231.44 478.60 L232.14 478.87 L232.83 479.20 L233.52 491.80 L234.21 478.60 L234.90 465.40 L235.59 466.30 L236.28 467.20 L236.98 465.29 L237.67 463.11 L238.36 461.20 L239.05 463.44 L239.74 466.00 L240.43 471.06 L241.12 476.36 L241.82 481.00 L242.51 466.67 L243.20 450.33 L243.89 436.00 L244.58 449.20 L245.27 448.90 L245.96 448.60 L246.66 457.02 L247.35 466.00 L248.04 470.29 L248.73 474.40 L249.42 478.00 L250.11 484.70 L250.80 491.20 L251.50 492.82 L252.19 494.20 L252.88 485.20 L253.57 485.80 L254.26 486.40 L254.95 484.00 L255.64 480.56 L256.34 477.40 L257.03 481.63 L257.72 486.40 L258.41 493.57 L259.10 500.20 L259.79 497.71 L260.48 494.80 L261.17 484.99 L261.87 475.60 L262.56 484.00 L263.25 483.46 L263.94 482.80 L264.63 476.80 L265.32 468.67 L266.01 461.20 L266.71 484.60 L267.40 469.55 L268.09 454.00 L268.78 450.75 L269.47 448.00 L270.16 469.60 L270.85 446.80 L271.55 454.00 L272.24 456.45 L272.93 458.80 L273.62 462.54 L274.31 466.00 L275.00 453.70 L275.69 441.40 L276.39 444.70 L277.08 448.00 L277.77 443.68 L278.46 439.36 L279.15 448.00 L279.84 452.20 L280.53 456.40 L281.23 465.40 L281.92 467.20 L282.61 471.73 L283.30 476.57 L283.99 481.60 L284.68 489.40 L285.37 482.80 L286.07 476.20 L286.76 481.60 L287.45 490.00 L288.14 484.00 L288.83 490.00 L289.52 484.00 L290.21 490.88 L290.91 498.72 L291.60 505.60 L292.29 498.40 L292.98 497.21 L293.67 496.00 L294.36 475.60 L295.05 487.00 L295.75 486.73 L296.44 486.40 L297.13 481.27 L297.82 476.20 L298.51 485.20 L299.20 490.64 L299.89 495.40 L300.58 492.64 L301.28 489.47 L301.97 486.40 L302.66 484.36 L303.35 482.37 L304.04 480.64 L304.73 482.29 L305.42 484.00 L306.12 484.30 L306.81 484.60 L307.50 486.73 L308.19 488.80 L308.88 488.26 L309.57 487.60 L310.26 476.14 L310.96 464.80 L311.65 468.70 L312.34 472.60 L313.03 471.22 L313.72 469.60 L314.41 463.78 L315.10 458.20 L315.80 463.60 L316.49 469.00 L317.18 456.40 L317.87 443.80 L318.56 450.40 L319.25 444.70 L319.94 439.00 L320.64 446.32 L321.33 454.00 L322.02 456.40 L322.71 458.80 L323.40 466.76 L324.09 475.31 L324.78 482.80 L325.48 478.72 L326.17 474.40 L326.86 472.66 L327.55 471.02 L328.24 469.60 L328.93 471.06 L329.62 472.60 L330.32 473.20 L331.01 476.50 L331.70 479.80 L332.39 480.45 L333.08 481.00 L333.77 477.91 L334.46 474.40 L335.16 469.00 L335.85 471.10 L336.54 473.20 L337.23 466.00 L337.92 458.80 L338.61 460.57 L339.30 462.40 L339.99 462.70 L340.69 463.00 L341.38 466.93 L342.07 470.80 L342.76 457.16 L343.45 443.20 L344.14 441.31 L344.83 439.62 L345.53 438.16 L346.22 440.75 L346.91 443.71 L347.60 446.80 L348.29 451.60 L348.98 457.56 L349.67 463.00 L350.37 450.40 L351.06 443.28 L351.75 436.50 L352.44 430.60 L353.13 431.97 L353.82 433.60 L354.51 444.83 L355.21 455.80 L355.90 454.30 L356.59 452.80 L357.28 461.67 L357.97 470.80 L358.66 472.36 L359.35 473.78 L360.05 475.00 L360.74 472.30 L361.43 469.60 L362.12 472.18 L362.81 475.00 L363.50 477.11 L364.19 479.20 L364.89 481.49 L365.58 484.00 L366.27 496.60 L366.96 496.83 L367.65 497.03 L368.34 497.20 L369.03 487.93 L369.73 478.60 L370.42 478.27 L371.11 478.00 L371.80 480.40 L372.49 469.00 L373.18 474.65 L373.87 480.40 L374.57 481.05 L375.26 481.60 L375.95 467.20 L376.64 457.98 L377.33 449.12 L378.02 441.40 L378.71 448.00 L379.40 446.20 L380.10 444.40 L380.79 448.90 L381.48 454.00 L382.17 462.40 L382.86 470.20 L383.55 461.91 L384.24 452.45 L384.94 443.80 L385.63 442.00 L386.32 440.73 L387.01 439.60 L387.70 448.20 L388.39 457.60 L389.08 464.80 L389.78 460.00 L390.47 468.10 L391.16 476.20 L391.85 475.85 L392.54 475.44 L393.23 475.00 L393.92 472.86 L394.62 470.80 L395.31 473.80 L396.00 476.80 L396.69 469.60 L397.38 473.03 L398.07 476.80 L398.76 480.16 L399.46 483.49 L400.15 486.40 L400.84 480.70 L401.53 475.00 L402.22 477.10 L402.91 479.20 L403.60 472.00 L404.30 472.90 L404.99 473.80 L405.68 470.20 L406.37 466.60 L407.06 476.20 L407.75 485.80 L408.44 485.53 L409.14 485.20 L409.83 449.80 L410.52 455.80 L411.21 461.80 L411.90 455.50 L412.59 449.20 L413.28 452.80 L413.98 456.40 L414.67 453.40 L415.36 456.46 L416.05 459.94 L416.74 463.00 L417.43 452.15 L418.12 440.80 L418.81 437.37 L419.51 434.20 L420.20 431.44 L420.89 432.96 L421.58 434.80 L422.27 445.60 L422.96 443.80 L423.65 442.00 L424.35 452.20 L425.04 462.40 L425.73 455.71 L426.42 448.09 L427.11 441.40 L427.80 447.10 L428.49 452.80 L429.19 448.60 L429.88 454.15 L430.57 460.00 L431.26 462.08 L431.95 464.20 L432.64 474.88 L433.33 485.20 L434.03 477.50 L434.72 469.60 L435.41 468.41 L436.10 467.20 L436.79 458.80 L437.48 464.20 L438.17 469.60 L438.87 461.20 L439.56 464.45 L440.25 468.15 L440.94 471.40 L441.63 462.40 L442.32 466.00 L443.01 469.60 L443.71 451.60 L444.40 455.80 L445.09 450.45 L445.78 444.35 L446.47 439.00 L447.16 441.15 L447.85 443.62 L448.55 446.20 L449.24 450.86 L449.93 455.20 L450.62 445.00 L451.31 434.80 L452.00 436.00 L452.69 428.80 L453.39 421.60 L454.08 433.90 L454.77 446.20 L455.46 442.00 L456.15 446.97 L456.84 452.63 L457.53 457.60 L458.22 453.10 L458.92 448.60 L459.61 449.13 L460.30 449.74 L460.99 450.40 L461.68 452.20 L462.37 450.86 L463.06 449.34 L463.76 448.00 L464.45 456.70 L465.14 465.40 L465.83 463.90 L466.52 462.40 L467.21 473.20 L467.90 455.80 L468.60 457.90 L469.29 460.00 L469.98 454.00 L470.67 460.00 L471.36 455.22 L472.05 449.78 L472.74 445.00 L473.44 448.00 L474.13 455.70 L474.82 463.00 L475.51 448.00 L476.20 433.00 L476.89 439.60 L477.58 446.20 L478.28 440.50 L478.97 434.80 L479.66 435.63 L480.35 436.60 L481.04 440.36 L481.73 444.43 L482.42 448.00 L483.12 438.44 L483.81 427.56 L484.50 418.00 L485.19 427.30 L485.88 436.60 L486.57 433.30 L487.26 430.00 L487.96 437.95 L488.65 446.80 L489.34 456.40 L490.03 463.83 L490.72 471.08 L491.41 477.40 L492.10 461.80 L492.80 467.50 L493.49 473.20 L494.18 467.96 L494.87 462.40 L495.56 460.00 L496.25 461.40 L496.94 463.02 L497.63 464.80 L498.33 470.80 L499.02 476.07 L499.71 481.27 L500.40 485.80 L501.09 479.35 L501.78 471.97 L502.47 464.80 L503.17 460.03 L503.86 455.80 L504.55 461.28 L505.24 467.20 L505.93 470.77 L506.62 474.40 L507.31 481.60 L508.01 475.30 L508.70 469.00 L509.39 492.40 L510.08 482.30 L510.77 472.00 L511.46 470.80 L512.15 465.87 L512.85 460.50 L513.54 455.80 L514.23 462.10 L514.92 468.40 L515.61 467.50 L516.30 466.60 L516.99 466.60 L517.69 463.26 L518.38 459.40 L519.07 449.95 L519.76 440.80 L520.45 439.59 L521.14 438.40 L521.83 434.80 L522.53 440.93 L523.22 447.40 L523.91 449.80 L524.60 435.85 L525.29 421.60 L525.98 419.77 L526.67 418.24 L527.37 422.02 L528.06 425.80 L528.75 423.40 L529.44 427.92 L530.13 433.00 L530.82 439.60 L531.51 448.27 L532.20 457.10 L532.90 464.80 L533.59 459.50 L534.28 454.00 L534.97 452.70 L535.66 451.60 L536.35 457.60 L537.04 456.70 L537.74 455.80 L538.43 457.71 L539.12 460.00 L539.81 469.60 L540.50 464.50 L541.19 459.40 L541.88 493.00 L542.58 474.40 L543.27 455.80 L543.96 474.40 L544.65 457.60 L545.34 463.60 L546.03 469.60 L546.72 469.00 L547.42 468.40 L548.11 475.00 L548.80 472.90 L549.49 470.50 L550.18 468.40 L550.87 474.10 L551.56 479.80 L552.26 466.60 L552.95 452.80 L553.64 458.20 L554.33 463.60 L555.02 454.00 L555.71 444.40 L556.40 446.02 L557.10 448.00 L557.79 469.60 L558.48 458.25 L559.17 446.20 L559.86 440.80 L560.55 442.00 L561.24 434.92 L561.94 427.84 L562.63 428.80 L563.32 431.99 L564.01 435.40 L564.70 439.43 L565.39 443.20 L566.08 443.80 L566.78 434.33 L567.47 424.00 L568.16 415.89 L568.85 408.64 L569.54 425.32 L570.23 442.00 L570.92 442.00 L571.61 439.90 L572.31 437.80 L573.00 440.06 L573.69 442.60 L574.38 446.04 L575.07 449.20 L575.76 430.60 L576.45 446.20 L577.15 445.00 L577.84 440.11 L578.53 435.40 L579.22 443.80 L579.91 452.20 L580.60 440.80 L581.29 445.00 L581.99 449.80 L582.68 454.00 L583.37 439.90 L584.06 425.80 L584.75 433.30 L585.44 440.80 L586.13 435.10 L586.83 429.40 L587.52 438.40 L588.21 437.80 L588.90 437.20 L589.59 442.41 L590.28 448.00 L590.97 451.19 L591.67 454.00 L592.36 452.97 L593.05 451.78 L593.74 450.40 L594.43 433.00 L595.12 440.20 L595.81 447.40 L596.51 434.20 L597.20 437.84 L597.89 442.00 L598.58 449.76 L599.27 457.00 L599.96 449.19 L600.65 440.80 L601.35 436.00 L602.04 429.13 L602.73 422.80 L603.42 427.00 L604.11 425.80 L604.80 424.60 L605.49 429.83 L606.19 436.00 L606.88 455.80 L607.57 445.90 L608.26 436.00 L608.95 441.70 L609.64 447.40 L610.33 429.40 L611.02 436.30 L611.72 443.20 L612.41 440.80 L613.10 438.40 L613.79 445.88 L614.48 454.00 L615.17 459.67 L615.86 464.80 L616.56 465.45 L617.25 466.00 L617.94 457.00 L618.63 448.00 L619.32 451.81 L620.01 455.80 L620.70 457.09 L621.40 458.20 L622.09 450.40 L622.78 459.70 L623.47 469.00 L624.16 464.22 L624.85 458.78 L625.54 454.00 L626.24 464.20 L626.93 452.80 L627.62 450.19 L628.31 448.00 L629.00 454.00 L629.69 439.60 L630.38 439.87 L631.08 440.20 L631.77 452.23 L632.46 464.20 L633.15 446.53 L633.84 428.80 L634.53 428.50 L635.22 428.20 L635.92 422.80 L636.61 421.89 L637.30 421.00 L637.99 418.00 L638.68 434.20 L639.37 433.00 L640.06 428.40 L640.76 423.40 L641.45 415.73 L642.14 408.64 L642.83 409.39 L643.52 410.20 L644.21 410.80 L644.90 423.01 L645.60 435.40 L646.29 437.20 L646.98 442.33 L647.67 448.00 L648.36 461.20 L649.05 453.40 L649.74 445.60 L650.43 449.20 L651.13 448.63 L651.82 447.97 L652.51 447.40 L653.20 457.60 L653.89 456.70 L654.58 455.80 L655.27 457.60 L655.97 466.59 L656.66 475.60 L657.35 477.55 L658.04 479.20 L658.73 468.40 L659.42 457.60 L660.11 466.60 L660.81 459.40 L661.50 452.20 L662.19 456.10 L662.88 460.00 L663.57 458.20 L664.26 461.50 L664.95 464.80 L665.65 458.80 L666.34 469.36 L667.03 449.20 L667.72 450.40 L668.41 451.60 L669.10 428.80 L669.79 436.00 L670.49 443.20 L671.18 436.90 L671.87 430.60 L672.56 442.90 L673.25 455.20 L673.94 439.60 L674.63 445.00 L675.33 450.40 L676.02 423.40 L676.71 423.95 L677.40 424.60 L678.09 429.96 L678.78 435.40 L679.47 436.60 L680.17 433.60 L680.86 430.60 L681.55 440.20 L682.24 449.80 L682.93 437.50 L683.62 425.20 L684.31 431.80 L685.01 425.20 L685.70 418.60 L686.39 431.20 L687.08 435.61 L687.77 439.67 L688.46 443.20 L689.15 442.00 L689.84 449.80 L690.54 457.60 L691.23 448.43 L691.92 439.00 L692.61 437.43 L693.30 436.02 L693.99 434.80 L694.68 438.85 L695.38 443.20 L696.07 445.75 L696.76 448.00 L697.45 447.10 L698.14 446.20 L698.83 469.60 L699.52 446.20 L700.22 451.30 L700.91 456.40 L701.60 446.20 L702.29 456.40 L702.98 456.13 L703.67 455.80 L704.36 450.97 L705.06 446.20 L705.75 457.38 L706.44 469.00 L707.13 472.00 L707.82 468.07 L708.51 463.60 L709.20 456.13 L709.90 449.20 L710.59 452.80 L711.28 456.40 L711.97 442.00 L712.66 448.90 L713.35 455.80 L714.04 442.00 L714.74 452.80 L715.43 463.60 L716.12 450.40 L716.81 437.20 L717.50 439.30 L718.19 441.40 L718.88 417.40 L719.58 417.56 L720.27 417.76 L720.96 442.00 L721.65 443.53 L722.34 445.00 L723.03 453.23 L723.72 461.20 L724.42 447.63 L725.11 432.17 L725.80 418.60 L726.49 423.45 L727.18 428.80 L727.87 433.67 L728.56 438.40 L729.25 441.40 L729.95 450.37 L730.64 459.98 L731.33 468.40 L732.02 462.40 L732.71 456.40 L733.40 457.90 L734.09 459.40 L734.79 447.40 L735.48 451.60 L736.17 455.80 L736.86 454.60 L737.55 453.40 L738.24 457.60 L738.93 462.40 L739.63 472.00 L740.32 481.00 L741.01 446.80 L741.70 456.30 L742.39 466.00 L743.08 467.20 L743.77 460.60 L744.47 455.21 L745.16 450.40 L745.85 460.00 L746.54 458.20 L747.23 456.40 L747.92 467.20 L748.61 471.09 L749.31 474.40 L750.00 443.20 L750.69 443.20 L751.38 445.60 L752.07 429.40 L752.76 432.70 L753.45 436.00 L754.15 432.40 L754.84 428.80 L755.53 436.00 L756.22 438.27 L756.91 440.20 L757.60 430.59 L758.29 420.40 L758.99 415.91 L759.68 412.00 L760.37 416.80 L761.06 425.91 L761.75 434.80 L762.44 437.26 L763.13 439.60 L763.83 442.54 L764.52 445.60 L765.21 450.89 L765.90 455.80 L766.59 442.60 L767.28 455.80 L767.97 435.40 L768.66 440.50 L769.36 445.60 L770.05 438.40 L770.74 447.40 L771.43 442.60 L772.12 447.87 L772.81 454.00 L773.50 469.00 L774.20 467.66 L774.89 466.00 L775.58 440.80 L776.27 452.20 L776.96 448.90 L777.65 445.60 L778.34 454.60 L779.04 448.90 L779.73 443.20 L780.42 453.70 L781.11 464.20 L781.80 456.78 L782.49 449.20 L783.18 448.31 L783.88 447.40 L784.57 433.60 L785.26 424.04 L785.95 415.60 L786.64 420.45 L787.33 425.80 L788.02 430.86 L788.72 436.00 L789.41 442.60 L790.10 437.22 L790.79 431.20 L791.48 423.64 L792.17 416.20 L792.86 412.00 L793.56 409.13 L794.25 406.60 L794.94 413.61 L795.63 421.60 L796.32 434.80 L797.01 434.80 L797.70 448.60 L798.40 443.80 L799.09 439.00 L799.78 442.90 L800.47 446.80 L801.16 442.60 L801.85 441.94 L802.54 441.40 L803.24 441.40 L803.93 441.40 L804.62 450.40 L805.31 456.77 L806.00 462.40 L806.69 454.60 L807.38 459.10 L808.07 463.60 L808.77 459.06 L809.46 454.00 L810.15 448.04 L810.84 442.60 L811.53 455.80 L812.22 451.00 L812.91 446.20 L813.61 454.90 L814.30 463.60 L814.99 455.27 L815.68 446.20 L816.37 439.60 L817.06 457.60 L817.75 438.40 L818.45 436.42 L819.14 434.80 L819.83 438.40 L820.52 442.00 L821.21 439.60 L821.90 437.20 L822.59 463.00 L823.29 457.49 L823.98 451.60 L824.67 448.60 L825.36 448.00 L826.05 447.40 L826.74 442.15 L827.43 436.31 L828.13 431.20 L828.82 438.94 L829.51 447.40 L830.20 454.00 L830.89 458.77 L831.58 463.00 L832.27 444.40 L832.97 443.17 L833.66 442.00 L834.35 436.94 L835.04 431.45 L835.73 426.64 L836.42 431.20 L837.11 438.06 L837.81 445.00 L838.50 451.01 L839.19 456.40 L839.88 439.60 L840.57 432.50 L841.26 426.40 L841.95 431.80 L842.65 418.60 L843.34 414.83 L844.03 411.64 L844.72 424.00 L845.41 429.29 L846.10 434.20 L846.79 437.13 L847.48 440.20 L848.18 452.20 L848.87 430.00 L849.56 452.80 L850.25 429.40 L850.94 429.17 L851.63 428.97 L852.32 428.80 L853.02 442.00 L853.71 441.70 L854.40 441.40 L855.09 447.01 L855.78 453.40 L856.47 463.60 L857.16 469.37 L857.86 474.40 L858.55 466.38 L859.24 457.60 L859.93 450.40 L860.62 455.80 L861.31 448.90 L862.00 442.00 L862.70 447.02 L863.39 452.80 L864.08 464.20 L864.77 461.20"/>
<line class="tm" x1="202.50" y1="519.50" x2="202.50" y2="524.36"/>
<line class="tm" x1="285.50" y1="519.50" x2="285.50" y2="524.36"/>
<line class="tm" x1="368.50" y1="519.50" x2="368.50" y2="524.36"/>
<line class="tm" x1="451.50" y1="519.50" x2="451.50" y2="524.36"/>
<line class="tm" x1="534.50" y1="519.50" x2="534.50" y2="524.36"/>
<line class="tm" x1="617.50" y1="519.50" x2="617.50" y2="524.36"/>
<line class="tm" x1="700.50" y1="519.50" x2="700.50" y2="524.36"/>
<line class="tm" x1="783.50" y1="519.50" x2="783.50" y2="524.36"/>
<line class="tm" x1="866.50" y1="519.50" x2="866.50" y2="524.36"/>
<line class="tm" x1="120.64" y1="432.50" x2="125.50" y2="432.50"/>
<line class="tm" x1="120.64" y1="475.50" x2="125.50" y2="475.50"/>
<rect class="fr" x="125.50" y="401.50" width="775.00" height="118.00"/>
<text class="tk" text-anchor="end" transform="translate(199.77 538.82) rotate(-30) scale(1.06 1)">2020</text>
<text class="tk" text-anchor="end" transform="translate(282.80 538.82) rotate(-30) scale(1.06 1)">2030</text>
<text class="tk" text-anchor="end" transform="translate(365.83 538.82) rotate(-30) scale(1.06 1)">2040</text>
<text class="tk" text-anchor="end" transform="translate(448.86 538.82) rotate(-30) scale(1.06 1)">2050</text>
<text class="tk" text-anchor="end" transform="translate(531.89 538.82) rotate(-30) scale(1.06 1)">2060</text>
<text class="tk" text-anchor="end" transform="translate(614.92 538.82) rotate(-30) scale(1.06 1)">2070</text>
<text class="tk" text-anchor="end" transform="translate(697.95 538.82) rotate(-30) scale(1.06 1)">2080</text>
<text class="tk" text-anchor="end" transform="translate(780.98 538.82) rotate(-30) scale(1.06 1)">2090</text>
<text class="tk" text-anchor="end" transform="translate(864.01 538.82) rotate(-30) scale(1.06 1)">2100</text>
<text class="tk" text-anchor="end" transform="translate(113.40 436.90) scale(1.03 1)">7650</text>
<text class="tk" text-anchor="end" transform="translate(113.40 480.90) scale(1.03 1)">7600</text>
<text class="lb" text-anchor="middle" transform="translate(71.00 461.60) rotate(-90) scale(1.087 1)">fieldmax</text>
</g>
<g>
<rect x="125.00" y="542.07" width="775.00" height="117.24" fill="#fff"/>
<path class="ln" d="M159.05 601 L865.95 601"/>
<line class="tm" x1="202.50" y1="659.50" x2="202.50" y2="664.36"/>
<line class="tm" x1="285.50" y1="659.50" x2="285.50" y2="664.36"/>
<line class="tm" x1="368.50" y1="659.50" x2="368.50" y2="664.36"/>
<line class="tm" x1="451.50" y1="659.50" x2="451.50" y2="664.36"/>
<line class="tm" x1="534.50" y1="659.50" x2="534.50" y2="664.36"/>
<line class="tm" x1="617.50" y1="659.50" x2="617.50" y2="664.36"/>
<line class="tm" x1="700.50" y1="659.50" x2="700.50" y2="664.36"/>
<line class="tm" x1="783.50" y1="659.50" x2="783.50" y2="664.36"/>
<line class="tm" x1="866.50" y1="659.50" x2="866.50" y2="664.36"/>
<line class="tm" x1="120.64" y1="547.50" x2="125.50" y2="547.50"/>
<line class="tm" x1="120.64" y1="601.50" x2="125.50" y2="601.50"/>
<line class="tm" x1="120.64" y1="654.50" x2="125.50" y2="654.50"/>
<rect class="fr" x="125.50" y="542.50" width="775.00" height="117.00"/>
<text class="tk" text-anchor="end" transform="translate(199.77 679.51) rotate(-30) scale(1.06 1)">2020</text>
<text class="tk" text-anchor="end" transform="translate(282.80 679.51) rotate(-30) scale(1.06 1)">2030</text>
<text class="tk" text-anchor="end" transform="translate(365.83 679.51) rotate(-30) scale(1.06 1)">2040</text>
<text class="tk" text-anchor="end" transform="translate(448.86 679.51) rotate(-30) scale(1.06 1)">2050</text>
<text class="tk" text-anchor="end" transform="translate(531.89 679.51) rotate(-30) scale(1.06 1)">2060</text>
<text class="tk" text-anchor="end" transform="translate(614.92 679.51) rotate(-30) scale(1.06 1)">2070</text>
<text class="tk" text-anchor="end" transform="translate(697.95 679.51) rotate(-30) scale(1.06 1)">2080</text>
<text class="tk" text-anchor="end" transform="translate(780.98 679.51) rotate(-30) scale(1.06 1)">2090</text>
<text class="tk" text-anchor="end" transform="translate(864.01 679.51) rotate(-30) scale(1.06 1)">2100</text>
<text class="tk" text-anchor="end" transform="translate(115.40 552.90) scale(1.045 1)">0.05</text>
<text class="tk" text-anchor="end" transform="translate(115.40 605.90) scale(1.045 1)">0.00</text>
<text class="tk" text-anchor="end" transform="translate(114.00 658.90) scale(1.09 1)">−0.05</text>
<text class="lb" text-anchor="middle" transform="translate(65.00 602.39) rotate(-90) scale(1.045 1)">nummasked</text>
</g>
<g>
<rect x="125.00" y="682.76" width="775.00" height="117.24" fill="#fff"/>
<path class="ln" d="M159.05 741 L865.95 741"/>
<line class="tm" x1="202.50" y1="800.50" x2="202.50" y2="805.36"/>
<line class="tm" x1="285.50" y1="800.50" x2="285.50" y2="805.36"/>
<line class="tm" x1="368.50" y1="800.50" x2="368.50" y2="805.36"/>
<line class="tm" x1="451.50" y1="800.50" x2="451.50" y2="805.36"/>
<line class="tm" x1="534.50" y1="800.50" x2="534.50" y2="805.36"/>
<line class="tm" x1="617.50" y1="800.50" x2="617.50" y2="805.36"/>
<line class="tm" x1="700.50" y1="800.50" x2="700.50" y2="805.36"/>
<line class="tm" x1="783.50" y1="800.50" x2="783.50" y2="805.36"/>
<line class="tm" x1="866.50" y1="800.50" x2="866.50" y2="805.36"/>
<line class="tm" x1="120.64" y1="688.50" x2="125.50" y2="688.50"/>
<line class="tm" x1="120.64" y1="741.50" x2="125.50" y2="741.50"/>
<line class="tm" x1="120.64" y1="795.50" x2="125.50" y2="795.50"/>
<rect class="fr" x="125.50" y="683.50" width="775.00" height="117.00"/>
<text class="tk" text-anchor="end" transform="translate(199.77 820.20) rotate(-30) scale(1.06 1)">2020</text>
<text class="tk" text-anchor="end" transform="translate(282.80 820.20) rotate(-30) scale(1.06 1)">2030</text>
<text class="tk" text-anchor="end" transform="translate(365.83 820.20) rotate(-30) scale(1.06 1)">2040</text>
<text class="tk" text-anchor="end" transform="translate(448.86 820.20) rotate(-30) scale(1.06 1)">2050</text>
<text class="tk" text-anchor="end" transform="translate(531.89 820.20) rotate(-30) scale(1.06 1)">2060</text>
<text class="tk" text-anchor="end" transform="translate(614.92 820.20) rotate(-30) scale(1.06 1)">2070</text>
<text class="tk" text-anchor="end" transform="translate(697.95 820.20) rotate(-30) scale(1.06 1)">2080</text>
<text class="tk" text-anchor="end" transform="translate(780.98 820.20) rotate(-30) scale(1.06 1)">2090</text>
<text class="tk" text-anchor="end" transform="translate(864.01 820.20) rotate(-30) scale(1.06 1)">2100</text>
<text class="tk" text-anchor="end" transform="translate(115.40 693.90) scale(1.045 1)">0.05</text>
<text class="tk" text-anchor="end" transform="translate(115.40 746.90) scale(1.045 1)">0.00</text>
<text class="tk" text-anchor="end" transform="translate(114.00 799.90) scale(1.09 1)">−0.05</text>
<text class="lb" text-anchor="middle" transform="translate(65.00 744.08) rotate(-90) scale(1.046 1)">numnan</text>
<text class="lb" text-anchor="middle" transform="translate(512.20 856.00) scale(1.102 1)">validtime</text>
</g>
</svg>
</body>
</html>
